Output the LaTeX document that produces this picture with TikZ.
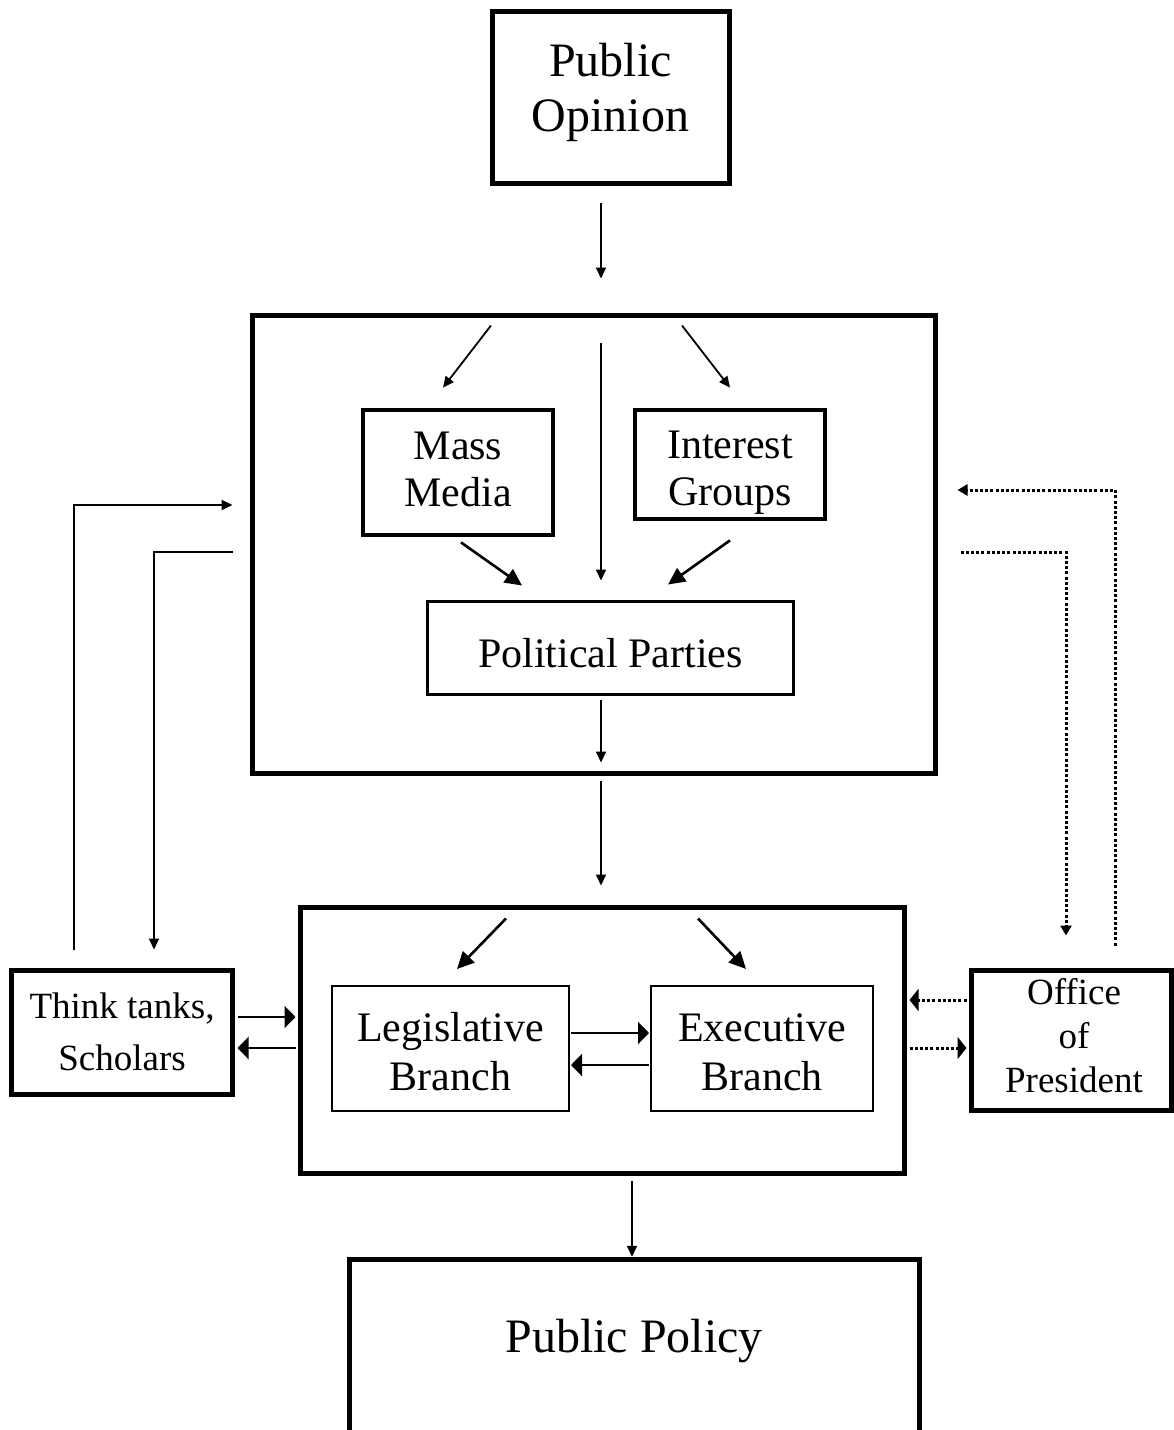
\documentclass[tikz,border=0pt]{standalone}
\usepackage{fontspec}
\setmainfont{Liberation Serif}
\usetikzlibrary{arrows.meta,calc}

\tikzset{
  box/.style={draw, rectangle, inner sep=0pt},
  heavybox/.style={box, line width=5pt},
  midbox/.style={box, line width=4.8pt},
  slimbox/.style={box, line width=3pt},
  thinbox/.style={box, line width=2pt},
  txt/.style={align=center, inner sep=0pt},
  bigtxt/.style={txt, font=\fontsize{48}{55}\selectfont},
  midtxt/.style={txt, font=\fontsize{42}{47}\selectfont},
  brtxt/.style={txt, font=\fontsize{42}{49}\selectfont},
  smalltxt/.style={txt, font=\fontsize{37}{52}\selectfont},
  offtxt/.style={txt, font=\fontsize{37}{44}\selectfont},
  arr/.style={line width=1.8pt, -{Triangle[length=11pt,width=10pt]}},
  boldarr/.style={line width=2.6pt, -{Triangle[length=17pt,width=16pt]}},
  sidearr/.style={line width=2.4pt, -{Triangle[length=11pt,width=22pt]}},
  dots/.style={line width=3pt, dash pattern=on 3pt off 2.2pt},
  dotarr/.style={dots, -{Triangle[length=10pt,width=11pt]}},
  dotside/.style={dots, -{Triangle[length=9pt,width=22pt]}},
}

\begin{document}
\begin{tikzpicture}[x=1pt, y=-1pt]
\useasboundingbox[fill=white] (0,0) rectangle (1174,1430);

% boxes
\node[heavybox, minimum width=237pt, minimum height=172pt] (po) at (610.5,97) {};
\node[heavybox, minimum width=683pt, minimum height=458pt] (g1) at (594,544.5) {};
\node[midbox, minimum width=190pt, minimum height=125pt] (mm) at (458,472.5) {};
\node[midbox, minimum width=190pt, minimum height=109pt] (ig) at (730,464.5) {};
\node[slimbox, minimum width=366pt, minimum height=93pt] (pp) at (610.5,648) {};
\node[heavybox, minimum width=604pt, minimum height=266pt] (g2) at (602.5,1040.5) {};
\node[thinbox, minimum width=237pt, minimum height=125pt] (lb) at (450.5,1048.5) {};
\node[thinbox, minimum width=222pt, minimum height=125pt] (eb) at (762,1048.5) {};
\node[heavybox, minimum width=221pt, minimum height=124pt] (tt) at (122,1032.5) {};
\node[heavybox, minimum width=200pt, minimum height=140pt] (op) at (1071.5,1040.5) {};
\node[box, draw=none, minimum width=570pt, minimum height=180pt] (pol) at (634.5,1349.5) {};
\draw[line width=5pt] (pol.south west) |- (pol.north east) -- (pol.south east);

% labels
\node[bigtxt] (po-t) at (610.5,92) {Public\\Opinion};
\node[midtxt] (mm-t) at (458,469.5) {Mass\\Media};
\node[midtxt] (ig-t) at (730,473) {Interest\\Groups};
\node[midtxt] (pp-t) at (610.5,653.5) {Political Parties};
\node[brtxt] (lb-t) at (450.5,1052) {Legislative\\Branch};
\node[brtxt] (eb-t) at (762,1052) {Executive\\Branch};
\node[smalltxt] (tt-t) at (122,1031.5) {Think tanks,\\Scholars};
\node[offtxt] (op-t) at (1074,1036) {Office\\of\\President};
\node[bigtxt] (pol-t) at (634,1341.5) {Public Policy};

% main flow
\draw[arr] ($(po.south)+(-9.5,17)$) -- ($(g1.north)+(7,-34.5)$);
\draw[arr] ($(g1.north)+(-103,12.5)$) -- ($(mm.north)+(-15,-20)$);
\draw[arr] ($(g1.north)+(7,29.5)$) -- ($(pp.north)+(-9.5,-19.5)$);
\draw[arr] ($(g1.north)+(88,12.5)$) -- ($(ig.north)+(0,-20)$);
\draw[boldarr] ($(mm.south)+(3,5)$) -- ($(pp.north)+(-88.5,-14.5)$);
\draw[boldarr] ($(ig.south)+(0,19)$) -- ($(pp.north)+(57.5,-15.5)$);
\draw[arr] ($(pp.south)+(-9.5,3.5)$) -- ($(g1.south)+(7,-13.5)$);
\draw[arr] ($(g1.south)+(7,4.5)$) -- ($(g2.north)+(-1.5,-19.5)$);
\draw[boldarr] ($(g2.north)+(-96.5,13.5)$) -- ($(lb.north)+(6.5,-16)$);
\draw[boldarr] ($(g2.north)+(95.5,13.5)$) -- ($(eb.north)+(-16,-16)$);
\draw[sidearr] ($(lb.east)+(1,-15.5)$) -- ($(eb.west)+(-1,-15.5)$);
\draw[sidearr] ($(eb.west)+(-1,16.5)$) -- ($(lb.east)+(1,16.5)$);
\draw[arr] ($(g2.south)+(29.5,4.5)$) -- ($(pol.north)+(-2.5,-2.5)$);

% think tanks
\draw[sidearr] ($(tt.east)+(2.5,-15.5)$) -- ($(g2.west)+(-2.5,-23.5)$);
\draw[sidearr] ($(g2.west)+(-2.5,7.5)$) -- ($(tt.east)+(2.5,15.5)$);
\draw[arr] ($(tt.north)+(-48,-18.5)$) |- ($(g1.west)+(-17.5,-39.5)$);
\draw[line width=1.8pt] ($(g1.west)+(-17.5,7.5)$) -| ($(tt.north)+(32,-31)$);
\draw[arr] ($(tt.north)+(32,-32)$) -- ($(tt.north)+(32,-18.5)$);

% office of president
\draw[dotside] ($(op.west)+(-2.5,-40.5)$) -- ($(g2.east)+(2.5,-40.5)$);
\draw[dotside] ($(g2.east)+(2.5,7.5)$) -- ($(op.west)+(-2.5,7.5)$);
\draw[dotarr] ($(op.north)+(43.5,-22.5)$) |- ($(g1.east)+(19.5,-54.5)$);
\draw[dotarr] ($(g1.east)+(22.5,7.5)$) -| ($(op.north)+(-5.5,-32.5)$);
\end{tikzpicture}
\end{document}
